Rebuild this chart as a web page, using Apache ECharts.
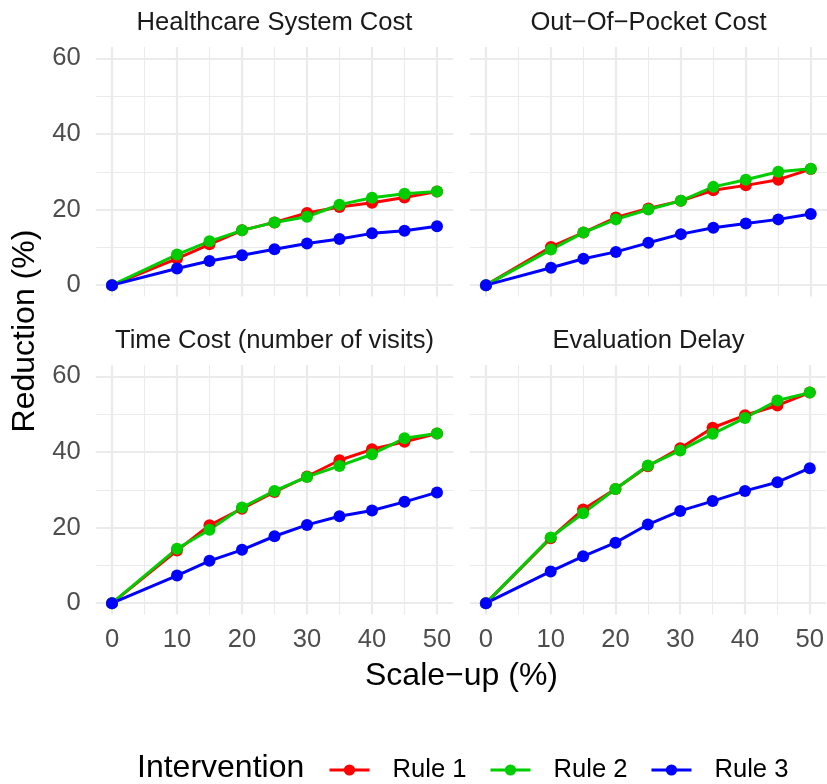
<!DOCTYPE html>
<html>
<head>
<meta charset="utf-8">
<title>Reduction by scale-up</title>
<script src="https://cdn.jsdelivr.net/npm/echarts@6/dist/echarts.min.js"></script>
<style>
  html, body { margin: 0; padding: 0; background: #ffffff; }
  #chart { width: 827px; height: 784px; }
</style>
</head>
<body>
<div id="chart"></div>
<script>
// ---- data -------------------------------------------------------------
const scaleUp = [0, 10, 15, 20, 25, 30, 35, 40, 45, 50];
const ruleNames = ['Rule 1', 'Rule 2', 'Rule 3'];
const panelTitles = ['Healthcare System Cost', 'Out\u2212Of\u2212Pocket Cost',
                     'Time Cost (number of visits)', 'Evaluation Delay'];

const healthcareRule1 = [0, 7.0, 10.8, 14.5, 16.6, 19.1, 20.7, 21.8, 23.2, 24.8];
const healthcareRule2 = [0, 8.1, 11.6, 14.5, 16.6, 18.1, 21.3, 23.1, 24.2, 24.8];
const healthcareRule3 = [0, 4.4, 6.4, 7.9, 9.5, 11.0, 12.2, 13.7, 14.4, 15.6];

const pocketRule1 = [0, 10.1, 13.9, 17.9, 20.3, 22.3, 25.1, 26.4, 27.9, 30.7];
const pocketRule2 = [0, 9.4, 13.9, 17.4, 20.0, 22.3, 26.0, 27.9, 30.0, 30.8];
const pocketRule3 = [0, 4.6, 7.0, 8.8, 11.2, 13.5, 15.2, 16.3, 17.4, 18.8];

const timeRule1 = [0, 13.9, 20.6, 25.0, 29.4, 33.5, 37.8, 40.7, 42.7, 44.9];
const timeRule2 = [0, 14.4, 19.4, 25.3, 29.7, 33.4, 36.3, 39.4, 43.6, 44.9];
const timeRule3 = [0, 7.3, 11.2, 14.1, 17.7, 20.7, 23.0, 24.5, 26.8, 29.3];

const delayRule1 = [0, 17.2, 24.8, 30.2, 36.2, 41.0, 46.4, 49.7, 52.3, 55.7];
const delayRule2 = [0, 17.4, 23.8, 30.2, 36.4, 40.4, 44.8, 49.0, 53.6, 55.7];
const delayRule3 = [0, 8.4, 12.4, 16.0, 20.8, 24.4, 27.0, 29.7, 32.0, 35.7];

const panelValues = [
  [healthcareRule1, healthcareRule2, healthcareRule3],
  [pocketRule1, pocketRule2, pocketRule3],
  [timeRule1, timeRule2, timeRule3],
  [delayRule1, delayRule2, delayRule3]
];

// tick labels and grid lines
const xTickLabels = [0, 10, 20, 30, 40, 50];
const xMinorLines = [5, 15, 25, 35, 45];
const yTickLabels = [0, 20, 40, 60];
const yMinorLines = [10, 30, 50];

// ---- layout & style ---------------------------------------------------
const FONT = "'Liberation Sans', Arial, Helvetica, sans-serif";
const ruleColors = ['#FF0000', '#00CD00', '#0000FF'];
const gridColor = '#EBEBEB';
const panelW = 357.5, panelH = 249.5;
const panelBoxes = [
  { left: 95.75, top: 47 },
  { left: 469.75, top: 47 },
  { left: 95.75, top: 365 },
  { left: 469.75, top: 365 }
];
const X_RANGE = [-2.5, 52.5];
const Y_RANGE = [-3, 63];

const grids = [], xAxes = [], yAxes = [], series = [], graphics = [];

panelBoxes.forEach(function (box, i) {
  const showY = (i % 2 === 0);
  const showX = (i >= 2);
  grids.push({ left: box.left, top: box.top, width: panelW, height: panelH, containLabel: false });

  xAxes.push({
    type: 'value', gridIndex: i, min: X_RANGE[0], max: X_RANGE[1],
    axisLine: { show: false }, axisTick: { show: false }, splitLine: { show: false },
    axisLabel: {
      show: showX, margin: 12, color: '#4D4D4D', fontFamily: FONT, fontSize: 25.6,
      showMinLabel: false, showMaxLabel: false,
      formatter: function (v) { return xTickLabels.indexOf(v) >= 0 ? String(v) : ''; }
    }
  });
  yAxes.push({
    type: 'value', gridIndex: i, min: Y_RANGE[0], max: Y_RANGE[1], splitNumber: 3,
    axisLine: { show: false }, axisTick: { show: false }, splitLine: { show: false },
    axisLabel: {
      show: showY, margin: 15, color: '#4D4D4D', fontFamily: FONT, fontSize: 25.6,
      showMinLabel: false, showMaxLabel: false,
      formatter: function (v) { return yTickLabels.indexOf(v) >= 0 ? String(v) : ''; }
    }
  });

  // panel grid lines, drawn underneath the data
  const lines = [];
  xTickLabels.forEach(function (v) { lines.push({ xAxis: v, lineStyle: { width: 2.2 } }); });
  xMinorLines.forEach(function (v) { lines.push({ xAxis: v, lineStyle: { width: 1.1 } }); });
  yTickLabels.forEach(function (v) { lines.push({ yAxis: v, lineStyle: { width: 2.2 } }); });
  yMinorLines.forEach(function (v) { lines.push({ yAxis: v, lineStyle: { width: 1.1 } }); });
  series.push({
    type: 'line', xAxisIndex: i, yAxisIndex: i, data: [], silent: true, z: 0,
    markLine: {
      silent: true, symbol: ['none', 'none'], label: { show: false }, z: 0,
      animation: false,
      lineStyle: { color: gridColor, type: 'solid' },
      emphasis: { disabled: true },
      data: lines
    }
  });

  ruleNames.forEach(function (name, r) {
    series.push({
      type: 'line', name: name, xAxisIndex: i, yAxisIndex: i,
      data: scaleUp.map(function (x, k) { return [x, panelValues[i][r][k]]; }),
      symbol: 'circle', symbolSize: 12, showSymbol: true, z: 3,
      color: ruleColors[r],
      lineStyle: { color: ruleColors[r], width: 3 },
      itemStyle: { color: ruleColors[r] },
      emphasis: { disabled: true }
    });
  });

  graphics.push({
    type: 'text', x: box.left + panelW / 2, y: box.top - 24.5,
    style: {
      text: panelTitles[i], fill: '#1A1A1A', font: '25.6px ' + FONT,
      textAlign: 'center', textVerticalAlign: 'middle'
    }
  });
});

// axis titles and legend title
graphics.push({
  type: 'text', x: 25, y: 331, rotation: Math.PI / 2,
  style: { text: 'Reduction (%)', fill: '#000000', font: '32px ' + FONT,
           textAlign: 'center', textVerticalAlign: 'middle' }
});
graphics.push({
  type: 'text', x: 461.5, y: 676,
  style: { text: 'Scale\u2212up (%)', fill: '#000000', font: '32px ' + FONT,
           textAlign: 'center', textVerticalAlign: 'middle' }
});
graphics.push({
  type: 'text', x: 137, y: 768,
  style: { text: 'Intervention', fill: '#000000', font: '32px ' + FONT,
           textAlign: 'left', textVerticalAlign: 'middle' }
});

const chart = echarts.init(document.getElementById('chart'), null, { renderer: 'canvas' });
chart.setOption({
  animation: false,
  backgroundColor: '#ffffff',
  grid: grids,
  xAxis: xAxes,
  yAxis: yAxes,
  legend: {
    data: ruleNames, left: 328, top: 757, orient: 'horizontal', padding: 0,
    itemWidth: 40, itemHeight: 14, itemGap: 22.5,
    selectedMode: false,
    lineStyle: { width: 3 },
    textStyle: { color: '#000000', fontFamily: FONT, fontSize: 25.6, padding: [0, 0, 0, 18] }
  },
  series: series,
  graphic: graphics
});
</script>
</body>
</html>
